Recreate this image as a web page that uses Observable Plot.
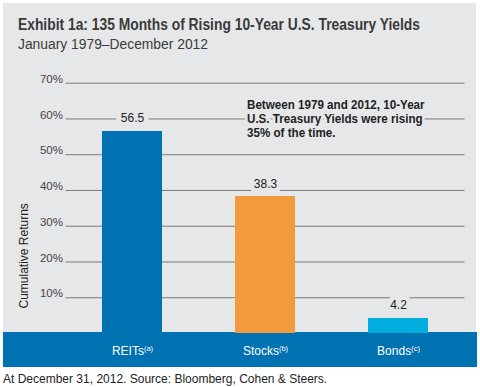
<!DOCTYPE html>
<html>
<head>
<meta charset="utf-8">
<script src="https://cdn.jsdelivr.net/npm/d3@7"></script>
<script src="https://cdn.jsdelivr.net/npm/@observablehq/plot@0.6"></script>
<style>
  html, body { margin: 0; padding: 0; background: #fff; width: 480px; height: 387px; overflow: hidden; }
  body { position: relative; font-family: "Liberation Sans", Arial, sans-serif; }
  #panel { position: absolute; left: 3px; top: 3px; width: 473px; height: 329px; background: #e6e7e8; }
  #band { position: absolute; left: 3px; top: 332px; width: 474px; height: 35px; background: #0071b1; }
  #title { position: absolute; left: 18px; top: 15px; font-weight: bold; font-size: 16.5px; color: #3a3a3a; line-height: 18px; white-space: nowrap; transform-origin: 0 0; }
  #subtitle { position: absolute; left: 18px; top: 36px; font-size: 14px; color: #3a3a3a; line-height: 16px; white-space: nowrap; transform-origin: 0 0; }
  #chart { position: absolute; left: 3px; top: 60px; }
  #caption { position: absolute; left: 3px; top: 372px; font-size: 12px; color: #222; line-height: 14px; white-space: nowrap; }
</style>
</head>
<body>
<div id="panel"></div>
<div id="band"></div>
<div id="title">Exhibit 1a: 135 Months of Rising 10-Year U.S. Treasury Yields</div>
<div id="subtitle">January 1979–December 2012</div>
<div id="chart"></div>
<div id="caption">At December 31, 2012. Source: Bloomberg, Cohen &amp; Steers.</div>
<script>
const categories = ["REITs", "Stocks", "Bonds"];
const notes = ["(a)", "(b)", "(c)"];
const values = [56.5, 38.3, 4.2];
const colors = ["#0071b1", "#f19a3e", "#00aedf"];
const yTicks = [10, 20, 30, 40, 50, 60, 70];
const yTickLabels = ["10%", "20%", "30%", "40%", "50%", "60%", "70%"];
const axisTitle = "Cumulative Returns";
const annotation = "Between 1979 and 2012, 10-Year\nU.S. Treasury Yields were rising\n35% of the time.";
const annotationCategory = "Stocks";
const annotationValue = 60;

const data = categories.map((c, i) => ({category: c, value: values[i], color: colors[i]}));
const bg = "#e6e7e8";

// condense the title to the reference's narrow face
function fitWidth(id, target) {
  const el = document.getElementById(id);
  const w = el.getBoundingClientRect().width;
  el.style.transform = `scaleX(${target / w})`;
}
fitWidth("title", 402);
fitWidth("subtitle", 190);

const chart = Plot.plot({
  width: 474,
  height: 308,
  marginTop: 22.7,
  marginBottom: 35,
  marginLeft: 62.5,
  marginRight: 12.5,
  style: {fontFamily: "'Liberation Sans', Arial, sans-serif", background: "transparent", color: "#222"},
  x: {domain: categories, paddingInner: 0.55, paddingOuter: 0.275, label: null},
  y: {domain: [0, 70], label: null},
  marks: [
    Plot.ruleY(yTicks, {stroke: "#7a7a7a", strokeWidth: 1}),
    Plot.barY(data, {x: "category", y: "value", fill: "color"}),
    Plot.text(data, {x: "category", y: "value", text: d => d.value.toFixed(1), lineAnchor: "bottom", dy: -9,
      fontSize: 12, fill: "#222", stroke: bg, strokeWidth: 10, paintOrder: "stroke"}),
    Plot.text([annotation], {x: () => annotationCategory, y: () => annotationValue, text: d => d,
      textAnchor: "start", lineAnchor: "middle", dx: -18.5, lineHeight: 1.12,
      fontWeight: "bold", fontSize: 12.5, fill: "#222", stroke: bg, strokeWidth: 6, paintOrder: "stroke"}),
    Plot.text([axisTitle], {frameAnchor: "bottom-left", rotate: -90, textAnchor: "start", lineAnchor: "middle",
      dx: -42, dy: -25, fontSize: 12, fill: "#222"}),
    Plot.axisY(yTicks, {tickSize: 0, tickPadding: 3, tickFormat: d => yTickLabels[yTicks.indexOf(d)],
      fontSize: 11.5, dy: -4, fill: "#444"}),
    Plot.axisX({tickSize: 0, tickPadding: 13, fontSize: 12, fill: "white", label: null})
  ]
});
document.getElementById("chart").appendChild(chart);

// narrow the annotation block, like the reference's condensed face
d3.select(chart).selectAll("text").filter(function() {
  return this.textContent.startsWith("Between");
}).each(function() {
  const t = d3.select(this);
  const tr = t.attr("transform");
  if (tr && tr.includes("translate")) {
    t.attr("transform", tr + " scale(0.93,1)");
  } else {
    const x = +(t.attr("x") || 0);
    t.attr("transform", `translate(${x},0) scale(0.93,1) translate(${-x},0)`);
  }
});

// add superscript notes to category labels
d3.select(chart).selectAll("g[aria-label='x-axis tick label'] text").each(function() {
  const t = d3.select(this);
  const name = t.text();
  const i = categories.indexOf(name);
  if (i < 0) return;
  t.text(name);
  t.append("tspan").attr("font-size", 7.5).attr("dy", "-0.5em").text(notes[i]);
});
</script>
</body>
</html>
